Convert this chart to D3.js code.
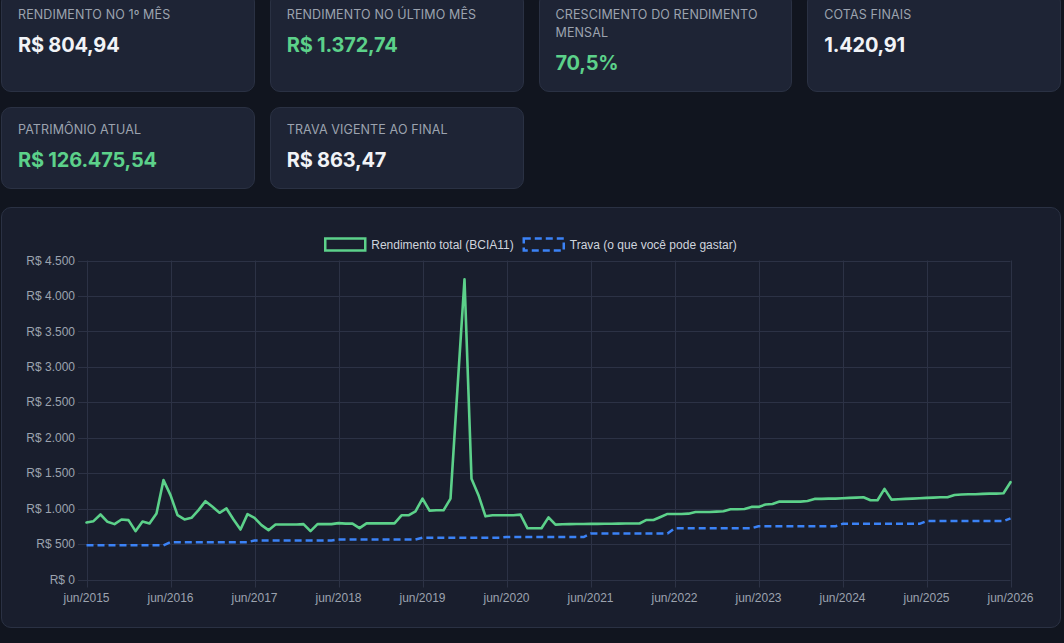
<!DOCTYPE html>
<html lang="pt-BR">
<head>
<meta charset="utf-8">
<script src="https://cdn.jsdelivr.net/npm/d3@7"></script>
<style>
  html, body { margin: 0; padding: 0; }
  body { width: 1064px; height: 643px; background: #11151f; overflow: hidden; position: relative; font-family: Inter, "Noto Sans", sans-serif; }
  .grid { position: absolute; left: 1px; top: -8px; width: 1060px; display: grid; grid-template-columns: repeat(4, 1fr); column-gap: 15px; row-gap: 15px; }
  .card { background: #1e2435; border: 1px solid #2a3143; border-radius: 10px; padding: 13px 16px 15px 16px; box-sizing: border-box; }
  .label { font-size: 12.5px; line-height: 18px; color: #9ca3af; letter-spacing: 0.12px; text-transform: uppercase; }
  .value { font-size: 20px; line-height: 26px; font-weight: 700; color: #f1f3f7; margin-top: 8px; letter-spacing: -0.2px; }
  .value.green { color: #5cd18a; }
  .panel { position: absolute; left: 1px; top: 207px; width: 1060px; height: 421px; box-sizing: border-box; background: #191e2d; border: 1px solid #2a3143; border-radius: 10px; }
  svg#chart { position: absolute; left: 0; top: 0; }
</style>
</head>
<body>
<div class="grid" id="cards"></div>
<div class="panel"></div>
<svg id="chart" width="1064" height="643"></svg>
<script>
// ---- KPI cards ----
const cardLabels = ["Rendimento no 1º mês", "Rendimento no último mês", "Crescimento do rendimento mensal", "Cotas finais", "Patrimônio atual", "Trava vigente ao final"];
const cardValues = ["R$ 804,94", "R$ 1.372,74", "70,5%", "1.420,91", "R$ 126.475,54", "R$ 863,47"];
const cardGreen = [false, true, true, false, true, false];

// ---- chart data ----
const monthAbbr = ["jan","fev","mar","abr","mai","jun","jul","ago","set","out","nov","dez"];
const categories = [];
for (let i = 0; i < 133; i++) {
  const mi = (5 + i) % 12, yr = 2015 + Math.floor((5 + i) / 12);
  categories.push(monthAbbr[mi] + "/" + yr);
}
const xTickLabels = ["jun/2015","jun/2016","jun/2017","jun/2018","jun/2019","jun/2020","jun/2021","jun/2022","jun/2023","jun/2024","jun/2025","jun/2026"];
const yTicks = [0, 500, 1000, 1500, 2000, 2500, 3000, 3500, 4000, 4500];
const seriesNames = ["Rendimento total (BCIA11)", "Trava (o que você pode gastar)"];

const rendimento = [
  804.94, 823, 917, 814, 781, 847, 837, 682, 818, 790, 931, 1402,
  1190, 908, 847, 870, 978, 1105, 1025, 941, 1002, 847, 705, 922,
  870, 767, 696, 776, 776, 776, 776, 781, 682, 781, 781, 781,
  795, 788, 788, 724, 792, 792, 792, 792, 792, 906, 906, 962,
  1141, 972, 976, 976, 1141, 2700, 4236, 1420, 1189, 891, 906, 906,
  906, 906, 915, 722, 722, 722, 877, 774, 780, 781, 782, 783,
  784, 785, 786, 787, 788, 789, 790, 790, 840, 840, 882, 925,
  925, 925, 929, 953, 953, 953, 957, 962, 991, 991, 995, 1024,
  1024, 1057, 1066, 1099, 1099, 1099, 1099, 1108, 1137, 1137, 1141, 1141,
  1146, 1151, 1155, 1160, 1118, 1118, 1278, 1127, 1132, 1137, 1141, 1146,
  1151, 1155, 1160, 1160, 1193, 1198, 1203, 1203, 1208, 1212, 1212, 1217,
  1372.74
];
const trava = [
  482, 482, 482, 482, 482, 482, 482, 482, 482, 482, 482, 482,
  527, 527, 527, 527, 527, 527, 527, 527, 527, 527, 527, 527,
  550, 550, 550, 550, 550, 550, 550, 550, 550, 550, 550, 550,
  565, 565, 565, 565, 565, 565, 565, 565, 565, 565, 565, 565,
  590, 590, 590, 590, 590, 590, 590, 590, 590, 590, 590, 590,
  598, 598, 598, 598, 598, 598, 598, 598, 598, 598, 598, 598,
  648, 648, 648, 648, 648, 648, 648, 648, 648, 648, 648, 648,
  722, 722, 722, 722, 722, 722, 722, 722, 722, 722, 722, 722,
  752, 752, 752, 752, 752, 752, 752, 752, 752, 752, 752, 752,
  785, 785, 785, 785, 785, 785, 785, 785, 785, 785, 785, 785,
  824, 824, 824, 824, 824, 824, 824, 824, 824, 824, 824, 824,
  863.47
];

// ---- cards ----
const cards = d3.select("#cards").selectAll("div.card").data(cardLabels).join("div").attr("class", "card");
cards.append("div").attr("class", "label").text(d => d);
cards.append("div").attr("class", (d, i) => "value" + (cardGreen[i] ? " green" : "")).text((d, i) => cardValues[i]);

// ---- chart ----
const GREEN = "#5cd18a", BLUE = "#3b82f6", GRID = "#2c3245", TICK = "#9ca3af";
const svg = d3.select("#chart");
const x = d3.scalePoint().domain(categories).range([86.5, 1010.5]);
const y = d3.scaleLinear().domain([0, 4500]).range([579.5, 260.5]);
const fmt = v => "R$ " + d3.format(",")(v).replace(/,/g, ".");

const g = svg.append("g");
// horizontal grid + y ticks
g.selectAll("line.hg").data(yTicks).join("line")
  .attr("x1", 78).attr("x2", x.range()[1])
  .attr("y1", d => Math.round(y(d)) + 0.5).attr("y2", d => Math.round(y(d)) + 0.5)
  .attr("stroke", GRID).attr("stroke-width", 1);
g.selectAll("text.yt").data(yTicks).join("text")
  .attr("x", 75).attr("y", d => y(d)).attr("dy", "0.35em")
  .attr("text-anchor", "end").attr("fill", TICK)
  .attr("font-family", "'Liberation Sans', Arial, sans-serif").attr("font-size", 12)
  .text(fmt);
// vertical grid + x ticks
g.selectAll("line.vg").data(xTickLabels).join("line")
  .attr("x1", d => Math.round(x(d)) + 0.5).attr("x2", d => Math.round(x(d)) + 0.5)
  .attr("y1", y(4500)).attr("y2", y(0) + 8)
  .attr("stroke", GRID).attr("stroke-width", 1);
g.selectAll("text.xt").data(xTickLabels).join("text")
  .attr("x", d => x(d)).attr("y", y(0) + 18).attr("dy", "0.35em")
  .attr("text-anchor", "middle").attr("fill", TICK)
  .attr("font-family", "'Liberation Sans', Arial, sans-serif").attr("font-size", 12)
  .text(d => d);

const line = d3.line().x((d, i) => x(categories[i])).y(d => y(d)).curve(d3.curveLinear);
svg.append("path").datum(trava).attr("d", line)
  .attr("fill", "none").attr("stroke", BLUE).attr("stroke-width", 2.5)
  .attr("stroke-dasharray", "7,4").attr("stroke-linejoin", "round");
svg.append("path").datum(rendimento).attr("d", line)
  .attr("fill", "none").attr("stroke", GREEN).attr("stroke-width", 2.6)
  .attr("stroke-linejoin", "round").attr("stroke-linecap", "round");

// legend
const leg = svg.append("g");
const items = leg.selectAll("g").data(seriesNames).join("g");
items.append("rect").attr("width", 40).attr("height", 12).attr("y", -6)
  .attr("fill", "none").attr("stroke", (d, i) => i ? BLUE : GREEN).attr("stroke-width", 2.5)
  .attr("stroke-dasharray", (d, i) => i ? "7,4" : null);
items.append("text").attr("x", 46).attr("dy", "0.35em")
  .attr("fill", "#cfd4dd").attr("font-family", "'Liberation Sans', Arial, sans-serif").attr("font-size", 12)
  .text(d => d);
let widths = [];
items.each(function () { widths.push(46 + this.querySelector("text").getComputedTextLength()); });
const total = widths[0] + 10 + widths[1];
let cx = 531 - total / 2;
items.attr("transform", (d, i) => `translate(${i ? cx + widths[0] + 10 : cx},244.5)`);
</script>
</body>
</html>
